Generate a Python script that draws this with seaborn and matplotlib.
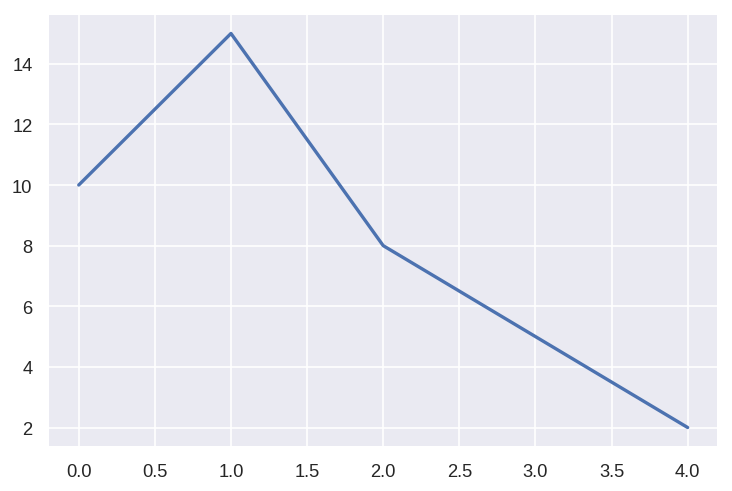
import numpy as np
import pandas as pd
import seaborn as sns
import matplotlib.pyplot as plt

x = [0, 1, 2, 3, 4]
y = [10, 15, 8, 5, 2]

sns.set_theme(style='darkgrid')
plt.rcParams['font.family'] = ['Liberation Sans', 'DejaVu Sans']

fig, ax = plt.subplots(figsize=(6.1, 4.1), dpi=120)
sns.lineplot(x=x, y=y, ax=ax, linewidth=2)
ax.set_xticks(np.arange(0, 4.01, 0.5))
ax.set_yticks([2, 4, 6, 8, 10, 12, 14])
plt.subplots_adjust(left=0.066, right=0.981, top=0.970, bottom=0.089)
plt.savefig('out.png')
